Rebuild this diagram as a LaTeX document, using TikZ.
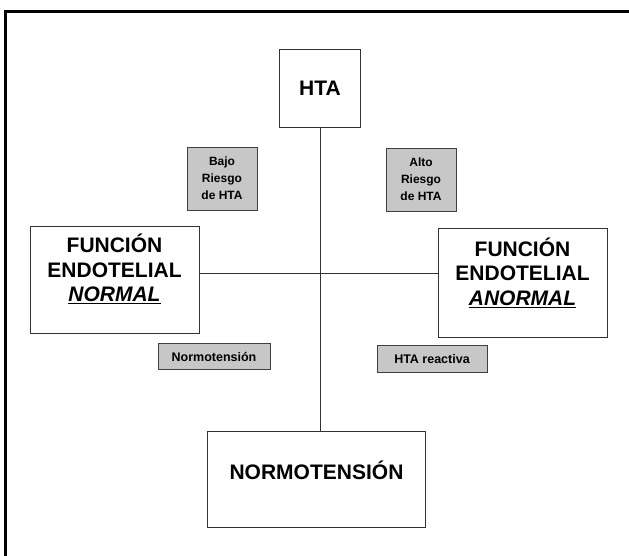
\documentclass[tikz,border=0pt]{standalone}
\usepackage{fontspec}
\setmainfont{Liberation Sans}
\begin{document}
\begin{tikzpicture}[x=1pt, y=-1pt,
    caja/.style={draw=black!80, line width=0.6pt, fill=white, inner sep=0pt},
    etiq/.style={draw=black!75, line width=0.6pt, fill=black!22, align=center, inner sep=0pt},
    texto/.style={align=center, inner sep=0pt},
    grande/.style={font=\bfseries\fontsize{21}{24.5}\selectfont},
    chica/.style={font=\bfseries\fontsize{12}{17}\selectfont}]
  \useasboundingbox (0,0) rectangle (629,556);
  \draw[line width=3pt] (5,556) -- (5,12) -- (629,12);
  % cajas principales
  \node[caja, grande, minimum width=81pt, minimum height=78pt] (hta) at (320,88) {HTA};
  \node[caja, minimum width=169pt, minimum height=107pt] (normal) at (114.5,279.5) {};
  \node[texto, grande] (normaltxt) at (114.5,269)
    {FUNCIÓN\\ENDOTELIAL\\\underline{\textit{NORMAL}}};
  \node[caja, minimum width=169pt, minimum height=109pt] (anormal) at (522.5,282.5) {};
  \node[texto, grande] (anormaltxt) at (522.5,272.5)
    {FUNCIÓN\\ENDOTELIAL\\\underline{\textit{ANORMAL}}};
  \node[caja, minimum width=218pt, minimum height=96pt] (normo) at (316.5,479) {};
  \node[texto, grande] (normotxt) at (316.5,470) {NORMOTENSIÓN};
  % etiquetas grises
  \node[etiq, chica, minimum width=70pt, minimum height=63pt] (bajo) at (222,178.5) {Bajo\\Riesgo\\de HTA};
  \node[etiq, chica, minimum width=70pt, minimum height=63pt] (alto) at (421,179.5) {Alto\\Riesgo\\de HTA};
  \node[etiq, font=\bfseries\fontsize{12.5}{15}\selectfont, minimum width=112pt, minimum height=26pt] (normot) at (214,356.5) {Normotensión};
  \node[etiq, font=\bfseries\fontsize{12.5}{15}\selectfont, minimum width=110pt, minimum height=27pt] (reactiva) at (432,359) {HTA reactiva};
  % ejes
  \coordinate (cruce) at (320,273);
  \draw[line width=0.6pt, black!80] (hta.south) -- (hta.south |- normo.north);
  \draw[line width=0.6pt, black!80] (normal.east |- cruce) -- (anormal.west |- cruce);
\end{tikzpicture}
\end{document}
